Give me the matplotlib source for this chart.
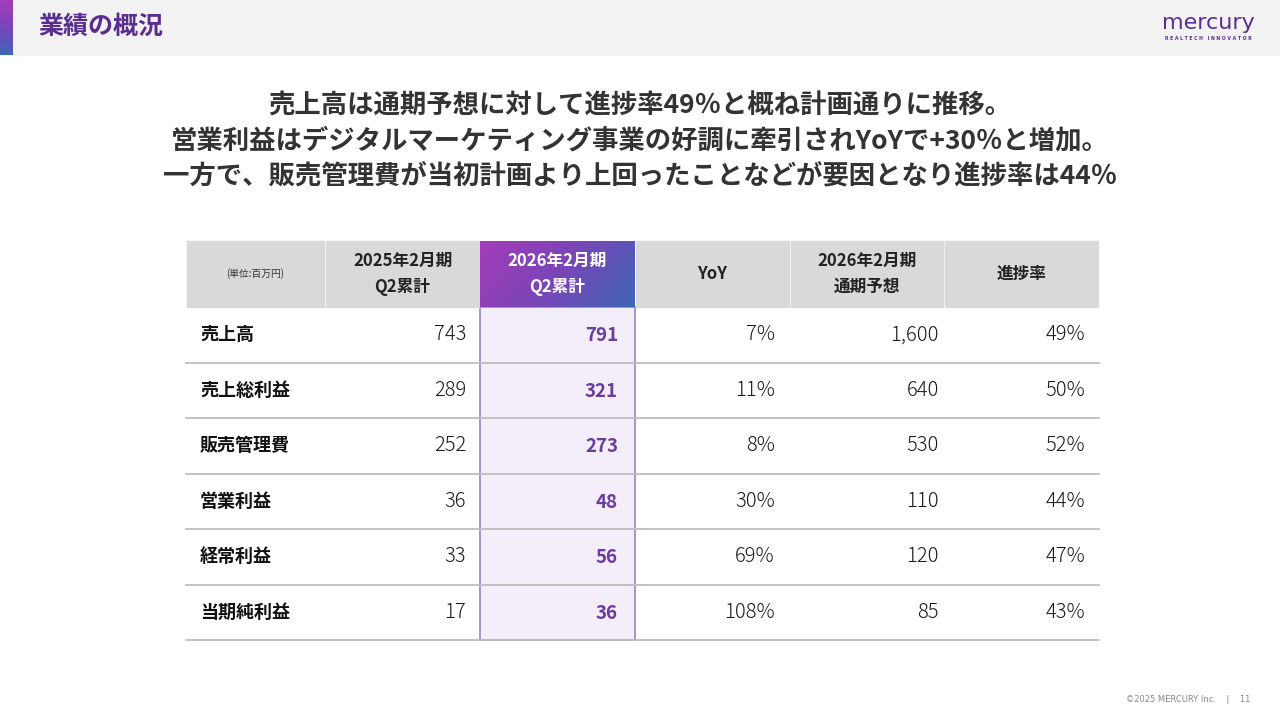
import numpy as np
import matplotlib.pyplot as plt
from matplotlib.patches import Rectangle
from matplotlib.colors import LinearSegmentedColormap

plt.rcParams['font.family'] = ['Noto Sans CJK JP', 'DejaVu Sans']

# table data (unit: million yen)
row_labels = ['売上高', '売上総利益', '販売管理費', '営業利益', '経常利益', '当期純利益']
prev_q2 = ['743', '289', '252', '36', '33', '17']
curr_q2 = ['791', '321', '273', '48', '56', '36']
yoy = ['7%', '11%', '8%', '30%', '69%', '108%']
forecast = ['1,600', '640', '530', '110', '120', '85']
progress = ['49%', '50%', '52%', '44%', '47%', '43%']
col_headers = ['(単位:百万円)', '2025年2月期\nQ2累計', '2026年2月期\nQ2累計', 'YoY',
               '2026年2月期\n通期予想', '進捗率']

headline = ['売上高は通期予想に対して進捗率49％と概ね計画通りに推移。',
            '営業利益はデジタルマーケティング事業の好調に牽引されYoYで+30％と増加。',
            '一方で、販売管理費が当初計画より上回ったことなどが要因となり進捗率は44％']

purple = '#5a2d91'
grad = LinearSegmentedColormap.from_list('g', ['#a43cb8', '#7a45b8', '#3f66b6'])

fig = plt.figure(figsize=(12.8, 7.2), dpi=100)
ax = fig.add_axes([0, 0, 1, 1])
ax.set_xlim(0, 1280)
ax.set_ylim(720, 0)
ax.axis('off')

# top band
ax.add_patch(Rectangle((0, 0), 1280, 55, color='#f2f2f2', zorder=0))
v = np.linspace(0, 1, 100).reshape(-1, 1)
ax.imshow(v, cmap=grad, extent=(0, 13, 55, 0), aspect='auto', zorder=1)
ax.text(38, 27, '業績の概況', fontsize=18, fontweight='bold', color=purple,
        va='center', ha='left')
ax.text(1208, 23, 'mercury', fontsize=16, color=purple, va='center', ha='center',
        family=['DejaVu Sans'])
ax.text(1208, 38, 'R E A L T E C H   I N N O V A T O R', fontsize=3.3, color=purple,
        va='center', ha='center', family=['DejaVu Sans'], fontweight='bold')

for i, line in enumerate(headline):
    ax.text(640, 106 + i * 35, line, fontsize=19, fontweight='bold', color='#333333',
            ha='center', va='center')

# table geometry
xs = [186, 325, 480, 635, 790, 944, 1099]
pads = [14, 17, 15, 5, 14]
top, hbot = 241, 307
rh = 55.5

# header
for j in range(6):
    x0, x1 = xs[j], xs[j + 1]
    if j == 2:
        xx, yy = np.meshgrid(np.linspace(0, 1, 80), np.linspace(0, 1, 40))
        ax.imshow(0.75 * xx + 0.25 * yy, cmap=grad, extent=(x0, x1, hbot, top),
                  aspect='auto', zorder=2)
    else:
        ax.add_patch(Rectangle((x0 + 1, top), x1 - x0 - 2, hbot - top,
                               color='#d9d9d9', zorder=2))
    cx = (x0 + x1) / 2
    if j == 0:
        ax.text(cx, 274, col_headers[j], fontsize=7, color='#333333', ha='center', va='center')
    else:
        ax.text(cx, 274, col_headers[j], fontsize=12, fontweight='bold',
                color='white' if j == 2 else '#222222', ha='center', va='center',
                linespacing=1.55)

# highlighted column body
nb = len(row_labels)
ax.add_patch(Rectangle((xs[2], hbot), xs[3] - xs[2], rh * nb, facecolor='#f3eef9',
                       edgecolor='#9a85bd', lw=1.2, zorder=1))

for i in range(nb):
    yc = hbot + rh * (i + 0.5)
    yl = hbot + rh * (i + 1)
    ax.plot([xs[0], xs[-1]], [yl, yl], color='#bdbdbd', lw=1.3, zorder=3)
    ax.text(200, yc, row_labels[i], fontsize=13, fontweight='bold', color='#111111',
            ha='left', va='center')
    vals = [prev_q2[i], curr_q2[i], yoy[i], forecast[i], progress[i]]
    for j, val in enumerate(vals):
        xr = xs[j + 2] - pads[j]
        if j == 1:
            ax.text(xr, yc + 1, val, fontsize=13.5, fontweight='bold', color='#6a3d9e',
                    ha='right', va='center')
        else:
            ax.text(xr, yc, val, fontsize=14.5, color='#1a1a1a', ha='right', va='center',
                    fontweight='light')

ax.text(1188, 700, '©2025 MERCURY Inc.    |    11', fontsize=6, color='#888888',
        ha='center', va='center', family=['DejaVu Sans'])

fig.savefig('out.png', dpi=100)
